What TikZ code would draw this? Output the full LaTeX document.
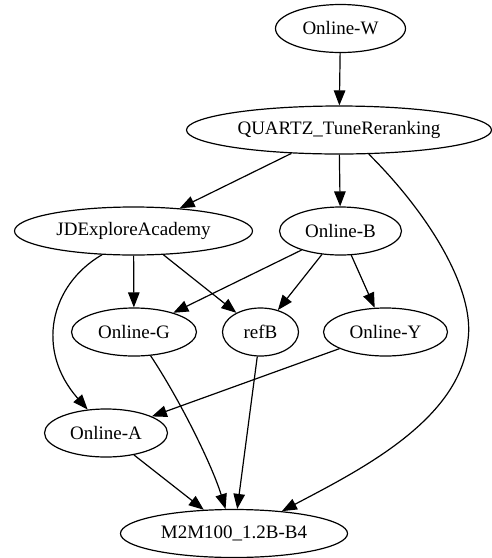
\documentclass[tikz,border=0pt]{standalone}
\usepackage{fontspec}
\setmainfont{Liberation Serif}
\usetikzlibrary{shapes.geometric,arrows.meta}
\tikzset{
  gnode/.style={ellipse, draw, line width=1.2pt, inner sep=0pt, minimum height=48pt, font=\fontsize{19}{22}\selectfont},
  gedge/.style={line width=1.2pt, -{Triangle[length=15pt,width=11.5pt]}},
}
\begin{document}
\begin{tikzpicture}[x=1pt,y=-1pt]
\useasboundingbox (0,0) rectangle (492,558);
\node[gnode, minimum width=130pt] (w) at (340.5,28.5) {Online-W};
\node[gnode, minimum width=305pt] (q) at (339,130) {QUARTZ\_TuneReranking};
\node[gnode, minimum width=238pt] (jd) at (133.5,231) {JDExploreAcademy};
\node[gnode, minimum width=122pt] (b) at (340.5,231) {Online-B};
\node[gnode, minimum width=125pt] (g) at (134,332) {Online-G};
\node[gnode, minimum width=76pt] (r) at (260.5,332) {refB};
\node[gnode, minimum width=124pt] (y) at (385.5,332) {Online-Y};
\node[gnode, minimum width=123pt] (a) at (106,433) {Online-A};
\node[gnode, minimum width=227pt] (m) at (234,533.5) {M2M100\_1.2B-B4};

\draw[gedge] (w) -- (q);
\draw[gedge] (q) -- (jd);
\draw[gedge] (q) -- (b);
\draw[gedge] (q.-39.6) .. controls (430,215) and (475,290) .. (468,340) .. controls (460,420) and (360,470) .. (m.25.2);
\draw[gedge] (jd.-143.3) .. controls (50,285) and (35,350) .. (a.128.7);
\draw[gedge] (jd) -- (g);
\draw[gedge] (jd) -- (r);
\draw[gedge] (b) -- (g);
\draw[gedge] (b) -- (r);
\draw[gedge] (b) -- (y);
\draw[gedge] (g.-55.8) .. controls (180,400) and (212,465) .. (m.109.8);
\draw[gedge] (r) -- (m);
\draw[gedge] (y) -- (a);
\draw[gedge] (a) -- (m);
\end{tikzpicture}
\end{document}
